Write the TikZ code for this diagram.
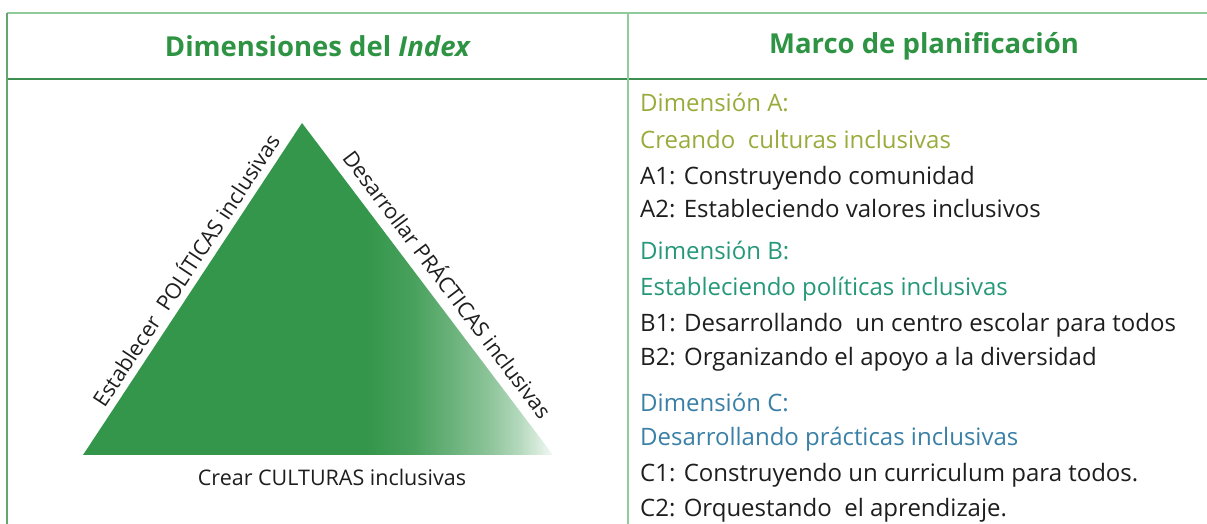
\documentclass[tikz,border=0pt]{standalone}
\usepackage{fontspec}
\setmainfont{Open Sans}
\definecolor{hdgreen}{HTML}{2E9444}
\definecolor{trigreen}{HTML}{33964A}
\definecolor{lightline}{HTML}{8FCB9B}
\definecolor{darkline}{HTML}{3D8F4F}
\definecolor{dimA}{HTML}{9AAB3C}
\definecolor{dimB}{HTML}{26987A}
\definecolor{dimC}{HTML}{3A80A6}
\definecolor{bodytext}{HTML}{1E1E1E}
\pgfdeclarehorizontalshading{trishade}{100bp}{color(0bp)=(trigreen); color(25bp)=(trigreen); color(55bp)=(trigreen); color(60bp)=(trigreen!90!white); color(64bp)=(trigreen!74!white); color(68bp)=(trigreen!57!white); color(71.5bp)=(trigreen!36!white); color(75bp)=(trigreen!6!white); color(100bp)=(trigreen!6!white)}
\tikzset{
  hdr/.style={font=\fontsize{27.5}{32}\selectfont\bfseries, text=hdgreen, inner sep=0pt},
  item/.style={anchor=base west, inner sep=0pt, font=\fontsize{24}{28}\selectfont, text=bodytext},
  sidelabel/.style={font=\fontsize{21.5}{25}\selectfont, text=bodytext, inner sep=0pt},
}
\begin{document}
\begin{tikzpicture}[x=1pt,y=1pt]
\useasboundingbox (0,0) rectangle (1207,524);
% grid lines
\coordinate (tl) at (7,511);
\coordinate (tr) at (1207,511);
\coordinate (hl) at (7,445);
\coordinate (hr) at (1207,445);
\coordinate (bl) at (7,0);
\coordinate (mt) at (628,511);
\coordinate (mb) at (628,0);
\draw[lightline, line width=1.6pt] (tl) -- (tr);
\draw[darkline, line width=1.1pt] (hl) -- (hr);
\draw[darkline!80!white, line width=1.1pt] (tl) -- (bl);
\draw[lightline, line width=1.2pt] (mt) -- (mb);
% headers
\node[hdr] (h1) at (318,478) {Dimensiones del \textit{Index}};
\node[hdr] (h2) at (924,478) {Marco de planificación};
% triangle
\coordinate (ta) at (302,401);
\coordinate (tbl) at (83,69);
\coordinate (tbr) at (553,69);
\shade[shading=trishade] (tbl) -- (ta) -- (tbr) -- cycle;
\path (tbl) -- (ta) node[sidelabel, sloped, pos=0.53, above=7pt] (lp) {Establecer\ \ POLÍTICAS inclusivas};
\path (ta) -- (tbr) node[sidelabel, sloped, pos=0.52, above=10pt] (lr) {Desarrollar PRÁCTICAS inclusivas};
\node[sidelabel] (lc) at (332,47) {Crear CULTURAS inclusivas};
% right column
\node[item, text=dimA] (da) at (640,412) {Dimensión A:};
\node[item, text=dimA] (da2) at (640,375) {Creando\ \ culturas inclusivas};
\node[item] (a1) at (640,339) {A1: Construyendo comunidad};
\node[item] (a2) at (640,306) {A2: Estableciendo valores inclusivos};
\node[item, text=dimB] (db) at (640,264) {Dimensión B:};
\node[item, text=dimB] (db2) at (640,228) {Estableciendo políticas inclusivas};
\node[item] (b1) at (640,192) {B1: Desarrollando\ \ un centro escolar para todos};
\node[item] (b2) at (640,158) {B2: Organizando el apoyo a la diversidad};
\node[item, text=dimC] (dc) at (640,112) {Dimensión C:};
\node[item, text=dimC] (dc2) at (640,78) {Desarrollando prácticas inclusivas};
\node[item] (c1) at (640,42) {C1: Construyendo un curriculum para todos.};
\node[item] (c2) at (640,7) {C2: Orquestando\ \ el aprendizaje.};
\end{tikzpicture}
\end{document}
